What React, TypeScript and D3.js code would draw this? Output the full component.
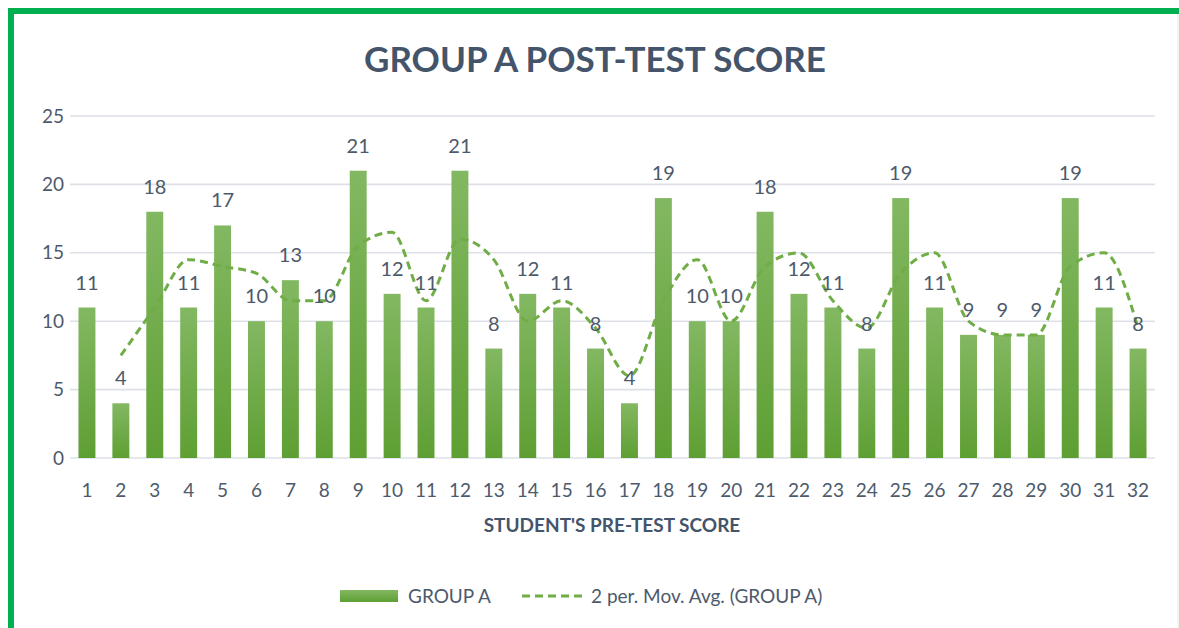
import { useEffect, useRef } from 'react'
import * as d3 from 'd3'

const students = d3.range(1, 33).map(String)
const groupA = [11, 4, 18, 11, 17, 10, 13, 10, 21, 12, 11, 21, 8, 12, 11, 8, 4, 19, 10, 10, 18, 12, 11, 8, 19, 11, 9, 9, 9, 19, 11, 8]
// 2 period moving average (starts at student 2)
const movAvg = [7.5, 11, 14.5, 14, 13.5, 11.5, 11.5, 15.5, 16.5, 11.5, 16, 14.5, 10, 11.5, 9.5, 6, 11.5, 14.5, 10, 14, 15, 11.5, 9.5, 13.5, 15, 10, 9, 9, 14, 15, 9.5]
const yTicks = [0, 5, 10, 15, 20, 25]

const W = 1179
const H = 628
const FONT = 'Lato, "Open Sans", sans-serif'
const TEXT = '#4d5a6c'

export default function App() {
  const svgRef = useRef<SVGSVGElement | null>(null)

  useEffect(() => {
    const svgElement = svgRef.current
    if (!svgElement) return
    const svg = d3.select(svgElement)
    svg.selectAll('*').remove()

    const margin = { top: 116, right: 24, bottom: 170, left: 70 }
    const plotW = 1155 - margin.left
    const plotH = 458 - margin.top

    // gradient for bars
    const defs = svg.append('defs')
    const grad = defs.append('linearGradient').attr('id', 'barGrad').attr('x1', 0).attr('y1', 0).attr('x2', 0).attr('y2', 1)
    grad.append('stop').attr('offset', '0%').attr('stop-color', '#83b862')
    grad.append('stop').attr('offset', '100%').attr('stop-color', '#5e9f33')

    svg.append('rect').attr('width', W).attr('height', H).attr('fill', '#fff')

    // green frame (top and left visible)
    svg.append('line').attr('x1', 8).attr('x2', W).attr('y1', 11).attr('y2', 11).attr('stroke', '#00b050').attr('stroke-width', 6)
    svg.append('line').attr('x1', 11).attr('x2', 11).attr('y1', 8).attr('y2', H).attr('stroke', '#00b050').attr('stroke-width', 6)
    svg.append('line').attr('x1', 1178).attr('x2', 1178).attr('y1', 14).attr('y2', H).attr('stroke', '#dfeee6').attr('stroke-width', 1)

    const x = d3.scaleBand().domain(students).range([0, plotW]).paddingInner(0.5).paddingOuter(0.25)
    const y = d3.scaleLinear().domain([0, 25]).range([plotH, 0])

    const g = svg.append('g').attr('transform', `translate(${margin.left},${margin.top})`)

    g.selectAll('line.grid')
      .data(yTicks)
      .join('line')
      .attr('class', 'grid')
      .attr('x1', 0)
      .attr('x2', plotW)
      .attr('y1', (d) => y(d))
      .attr('y2', (d) => y(d))
      .attr('stroke', '#dde1e7')
      .attr('stroke-width', 1.6)

    g.selectAll('text.ytick')
      .data(yTicks)
      .join('text')
      .attr('class', 'ytick')
      .attr('x', -6)
      .attr('y', (d) => y(d))
      .attr('dy', '0.35em')
      .attr('text-anchor', 'end')
      .attr('font-family', FONT)
      .attr('font-size', 19)
      .attr('fill', TEXT)
      .text((d) => d)

    g.selectAll('rect.bar')
      .data(groupA)
      .join('rect')
      .attr('class', 'bar')
      .attr('x', (_, i) => x(students[i])!)
      .attr('width', x.bandwidth())
      .attr('y', (d) => y(d))
      .attr('height', (d) => plotH - y(d))
      .attr('fill', 'url(#barGrad)')

    g.selectAll('text.xtick')
      .data(students)
      .join('text')
      .attr('class', 'xtick')
      .attr('x', (d) => x(d)! + x.bandwidth() / 2)
      .attr('y', plotH + 39)
      .attr('text-anchor', 'middle')
      .attr('font-family', FONT)
      .attr('font-size', 19)
      .attr('fill', TEXT)
      .text((d) => d)

    const line = d3
      .line<number>()
      .x((_, i) => x(students[i + 1])! + x.bandwidth() / 2)
      .y((d) => y(d))
      .curve(d3.curveMonotoneX)

    g.append('path')
      .datum(movAvg)
      .attr('fill', 'none')
      .attr('stroke', '#70ad47')
      .attr('stroke-width', 3)
      .attr('stroke-dasharray', '8,5')
      .attr('d', line)

    g.selectAll('text.val')
      .data(groupA)
      .join('text')
      .attr('class', 'val')
      .attr('x', (_, i) => x(students[i])! + x.bandwidth() / 2)
      .attr('y', (d) => y(d) - 18)
      .attr('text-anchor', 'middle')
      .attr('font-family', FONT)
      .attr('font-size', 20)
      .attr('fill', TEXT)
      .text((d) => d)

    svg
      .append('text')
      .attr('x', 595)
      .attr('y', 72)
      .attr('text-anchor', 'middle')
      .attr('font-family', FONT)
      .attr('font-weight', 700)
      .attr('font-size', 35)
      .attr('fill', '#44546a')
      .text('GROUP A POST-TEST SCORE')

    svg
      .append('text')
      .attr('x', 612)
      .attr('y', 532)
      .attr('text-anchor', 'middle')
      .attr('font-family', FONT)
      .attr('font-weight', 700)
      .attr('font-size', 19)
      .attr('fill', '#44546a')
      .text("STUDENT'S PRE-TEST SCORE")

    // legend
    const lg = svg.append('g')
    lg.append('rect').attr('x', 340).attr('y', 590).attr('width', 58).attr('height', 12).attr('fill', 'url(#barGrad)')
    lg.append('text').attr('x', 408).attr('y', 603).attr('font-family', FONT).attr('font-size', 19).attr('fill', TEXT).text('GROUP A')
    lg.append('line').attr('x1', 522).attr('x2', 584).attr('y1', 596).attr('y2', 596).attr('stroke', '#70ad47').attr('stroke-width', 3).attr('stroke-dasharray', '8,5')
    lg.append('text').attr('x', 591).attr('y', 603).attr('font-family', FONT).attr('font-size', 19).attr('fill', TEXT).text('2 per. Mov. Avg. (GROUP A)')
  }, [])

  return <svg ref={svgRef} width={W} height={H} style={{ position: 'absolute', left: 0, top: 0 }} />
}
